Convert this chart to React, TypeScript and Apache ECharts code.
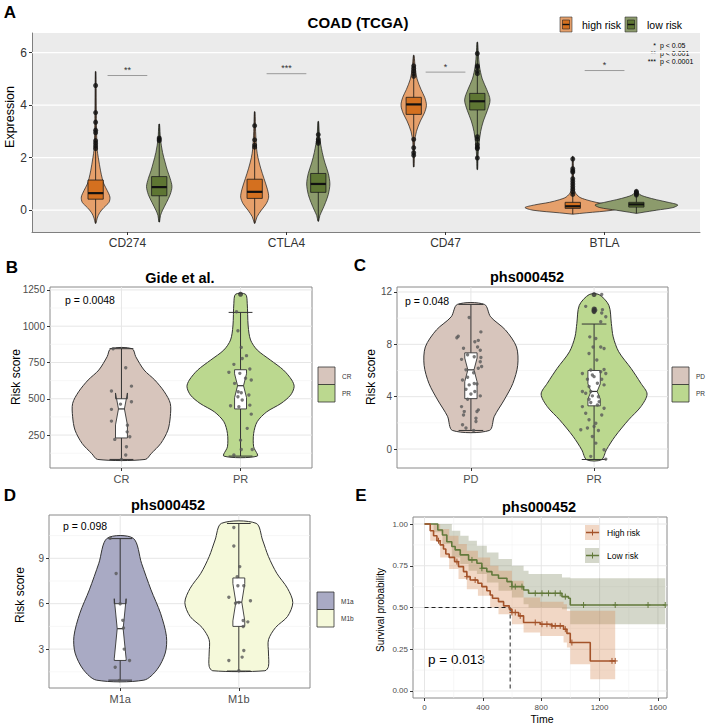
import React, { useEffect, useRef } from "react";
import * as echarts from "echarts";

const FONT = "'Liberation Sans', Arial, Helvetica, sans-serif";

// ================= Panel A: COAD (TCGA) =================
const aGenes = ["CD274", "CTLA4", "CD47", "BTLA"];
const aGroupNames = ["high risk", "low risk"];
const aYTicks = [0, 2, 4, 6];
// violin outlines: [expression, half-width (category units)]
const aViolinHigh = [
  [[-0.5, 0.002], [-0.3, 0.01], [-0.1, 0.025], [0.1, 0.052], [0.3, 0.084], [0.5, 0.09], [0.75, 0.073], [1.0, 0.052], [1.2, 0.042], [1.5, 0.031], [2.0, 0.017], [2.3, 0.01], [3.0, 0.006], [4.0, 0.004], [5.28, 0.002]],
  [[-0.5, 0.002], [-0.25, 0.015], [0.0, 0.042], [0.25, 0.073], [0.5, 0.088], [0.8, 0.08], [1.2, 0.059], [1.6, 0.038], [2.0, 0.021], [2.3, 0.013], [3.0, 0.006], [3.75, 0.002]],
  [[1.65, 0.002], [2.2, 0.004], [2.6, 0.006], [3.0, 0.017], [3.4, 0.042], [3.7, 0.067], [4.0, 0.08], [4.3, 0.069], [4.6, 0.046], [5.0, 0.021], [5.4, 0.01], [5.9, 0.002]],
  [[-0.15, 0.002], [-0.1, 0.084], [0.0, 0.25], [0.1, 0.3], [0.2, 0.241], [0.3, 0.147], [0.4, 0.084], [0.5, 0.042], [0.7, 0.013], [1.0, 0.006], [1.5, 0.004], [2.05, 0.002]],
];
const aViolinLow = [
  [[-0.45, 0.002], [-0.2, 0.008], [0.0, 0.021], [0.3, 0.046], [0.6, 0.069], [0.9, 0.08], [1.2, 0.069], [1.5, 0.052], [1.8, 0.038], [2.2, 0.021], [2.7, 0.008], [3.28, 0.002]],
  [[-0.42, 0.002], [-0.2, 0.01], [0.0, 0.025], [0.3, 0.046], [0.6, 0.063], [1.0, 0.073], [1.4, 0.063], [1.8, 0.042], [2.2, 0.025], [2.8, 0.008], [3.38, 0.002]],
  [[1.55, 0.002], [2.0, 0.004], [2.5, 0.01], [3.0, 0.021], [3.4, 0.038], [3.8, 0.063], [4.2, 0.08], [4.6, 0.059], [5.0, 0.031], [5.5, 0.013], [6.0, 0.006], [6.4, 0.002]],
  [[-0.12, 0.002], [-0.08, 0.042], [0.0, 0.126], [0.1, 0.23], [0.2, 0.26], [0.3, 0.2], [0.4, 0.126], [0.5, 0.063], [0.6, 0.021], [0.75, 0.004]],
];
// boxes: [q1, median, q3]
const aBoxHigh = [[0.42, 0.65, 1.15], [0.45, 0.7, 1.18], [3.65, 4.03, 4.3], [0.07, 0.15, 0.3]];
const aBoxLow = [[0.55, 0.88, 1.28], [0.68, 1.0, 1.4], [3.82, 4.15, 4.45], [0.12, 0.22, 0.3]];
const aOutHigh = [
  [4.75, 3.72, 3.35, 3.05, 2.95, 2.65, 2.55, 2.45, 2.35],
  [3.22, 2.68, 2.48, 2.4],
  [5.5, 5.4, 5.3, 5.2, 5.1, 2.7, 2.38, 2.19, 2.09],
  [1.95, 1.58, 1.5, 1.45, 1.2, 1.1, 1.0, 0.9, 0.8, 0.7, 0.6],
];
const aOutLow = [
  [2.75, 2.7, 2.65],
  [2.88, 2.7, 2.62, 2.55],
  [5.97, 5.5, 5.45, 5.3, 5.2, 2.8, 2.7, 2.5, 2.4, 2.35, 1.99],
  [0.72, 0.68, 0.62, 0.58],
];
const aSigLabels = ["**", "***", "*", "*"];
const aSigY = [5.13, 5.2, 5.26, 5.32];
const aPLegendStars = ["*", "**", "***"];
const aPLegendText = ["p < 0.05", "p < 0.001", "p < 0.0001"];

// ================= Panel B: Gide et al. =================
const bGroups = ["CR", "PR"];
const bYTicks = [250, 500, 750, 1000, 1250];
const bYMinor = [125, 375, 625, 875, 1125];
const bViolins = [
  [[82, 0.2], [123, 0.25], [192, 0.33], [284, 0.39], [376, 0.41], [468, 0.41], [548, 0.36], [629, 0.28], [698, 0.19], [790, 0.12], [845, 0.09]],
  [[105, 0.14], [169, 0.11], [261, 0.11], [342, 0.14], [410, 0.22], [468, 0.34], [525, 0.42], [583, 0.45], [629, 0.43], [698, 0.36], [767, 0.25], [836, 0.14], [905, 0.084], [1001, 0.064], [1158, 0.056], [1220, 0.042]],
];
// [q1, median, q3, notchLow, notchHigh, whiskerLow, whiskerHigh]
const bBoxes = [
  [230, 430, 500, 320, 540, 82, 845],
  [430, 590, 700, 508, 672, 105, 1095],
];
// jittered points: [offset, score]
const bPoints = [
  [[-0.07, 845], [0.036, 714], [0.084, 587], [-0.084, 553], [0.084, 480], [-0.008, 463], [-0.084, 427], [-0.084, 346], [0.05, 318], [0.048, 272], [-0.056, 220], [0.07, 238], [0.042, 170], [0.036, 112], [0, 82]],
  [[-0.034, 1100], [-0.022, 969], [0.006, 854], [0.05, 797], [0.014, 778], [-0.056, 737], [-0.098, 682], [0.078, 705], [-0.006, 675], [0.042, 641], [0.09, 629], [-0.05, 606], [-0.02, 548], [0.006, 541], [0.07, 526], [-0.022, 514], [0.014, 491], [-0.084, 452], [-0.014, 445], [0.078, 456], [0.09, 394], [0.056, 296], [0, 215], [0.006, 150], [0.098, 150], [-0.056, 112]],
];
const bOutliers = [[], [1220]];
const bPText = "p = 0.0048";

// ================= Panel C: phs000452 (PD / PR) =================
const cGroups = ["PD", "PR"];
const cYTicks = [0, 4, 8, 12];
const cYMinor = [2, 6, 10];
const cViolins = [
  [[1.42, 0.15], [2.5, 0.19], [3.75, 0.27], [5.0, 0.34], [6.4, 0.38], [7.8, 0.37], [9.1, 0.28], [10.1, 0.16], [11.05, 0.11]],
  [[-0.82, 0.06], [-0.06, 0.1], [0.96, 0.17], [2.23, 0.28], [3.24, 0.38], [4.2, 0.43], [5.02, 0.38], [6.16, 0.3], [7.43, 0.2], [8.57, 0.155], [9.6, 0.14], [10.98, 0.12], [11.8, 0.04]],
];
const cBoxes = [
  [3.85, 6.05, 7.35, 5.15, 6.95, 1.42, 11.05],
  [3.3, 4.4, 6.0, 3.82, 4.98, -0.8, 9.55],
];
const cPoints = [
  [[-0.014, 10.05], [-0.103, 8.62], [-0.114, 8.5], [0.081, 8.95], [0.06, 8.3], [0.032, 8.2], [0.054, 7.8], [-0.06, 7.7], [0.076, 7.55], [-0.027, 7.2], [0.027, 7.05], [-0.076, 6.85], [0.081, 7.0], [0.076, 6.67], [0.087, 6.3], [0.06, 6.17], [-0.04, 6.05], [0.022, 5.83], [-0.027, 5.48], [-0.068, 5.27], [0.027, 5.0], [-0.014, 4.9], [0.049, 4.97], [-0.04, 4.56], [0.032, 4.39], [0, 4.2], [0.076, 4.06], [-0.027, 3.8], [-0.076, 3.24], [0.06, 2.99], [0.049, 2.86], [-0.054, 2.86], [-0.06, 2.6], [0.041, 2.35], [0.041, 2.1], [-0.068, 1.85], [-0.04, 1.6], [0.022, 1.42]],
  [[0.062, 11.8], [-0.068, 10.9], [0.008, 10.73], [0.014, 10.6], [0, 10.48], [0.068, 10.65], [0.062, 10.4], [0.095, 10.1], [0.054, 9.72], [-0.035, 8.57], [0.014, 8.45], [0.054, 7.8], [0.081, 7.68], [-0.008, 7.8], [-0.041, 7.3], [0.022, 6.8], [-0.027, 6.04], [0.081, 6.08], [0.054, 5.9], [0.095, 5.77], [-0.095, 5.77], [-0.014, 5.65], [0, 5.53], [0.062, 5.33], [-0.054, 5.33], [0.027, 5.02], [-0.041, 4.77], [0.081, 4.9], [-0.068, 4.26], [-0.095, 4.39], [-0.027, 4.39], [-0.014, 4.06], [0.035, 4.0], [-0.041, 3.8], [0.041, 3.62], [-0.027, 3.55], [0.027, 3.37], [-0.095, 3.24], [0.081, 3.12], [-0.068, 2.74], [0.062, 2.6], [-0.041, 2.23], [0.014, 1.97], [0, 1.72], [-0.054, 1.6], [-0.108, 1.47], [0.035, 1.42], [-0.014, 0.96], [0.014, 0.45], [0.081, -0.06], [-0.027, -0.56], [0.095, -0.77]],
];
const cOutliers = [[], [11.8, 10.7, 10.6, 10.5]];
const cPText = "p = 0.048";

// ================= Panel D: phs000452 (M1a / M1b) =================
const dGroups = ["M1a", "M1b"];
const dYTicks = [3, 6, 9];
const dYMinor = [1.5, 4.5, 7.5, 10.5];
const dViolins = [
  [[0.95, 0.2], [1.64, 0.31], [2.74, 0.38], [3.84, 0.39], [5.37, 0.34], [6.91, 0.26], [8.67, 0.18], [10.32, 0.11]],
  [[1.57, 0.22], [1.86, 0.25], [2.74, 0.25], [3.62, 0.25], [4.43, 0.31], [5.15, 0.41], [6.08, 0.455], [7.02, 0.41], [8.01, 0.32], [9.11, 0.25], [10.21, 0.2], [11.31, 0.146]],
];
const dBoxes = [
  [2.25, 4.35, 6.0, 2.37, 6.33, 0.95, 10.3],
  [4.5, 6.1, 7.7, 4.87, 7.33, 1.55, 11.3],
];
const dPoints = [
  [[-0.084, 10.32], [-0.034, 8.0], [0, 6.0], [0.022, 4.9], [0.028, 4.4], [0.034, 3.0], [0.079, 2.25], [-0.042, 1.8], [-0.006, 0.92]],
  [[-0.042, 11.04], [-0.042, 9.81], [0.008, 8.45], [-0.014, 7.79], [-0.008, 7.18], [0.042, 7.18], [-0.084, 6.43], [-0.028, 6.03], [0, 6.08], [0.098, 6.2], [0.037, 4.89], [0.076, 4.8], [0.037, 4.49], [0.042, 2.91], [0.028, 2.47], [-0.084, 2.25], [0, 1.57]],
];
const dOutliers = [[], []];
const dPText = "p = 0.098";

// ================= Panel E: survival =================
const eXTicks = [0, 400, 800, 1200, 1600];
const eXMinor = [200, 600, 1000, 1400];
const eYTicks = [0, 0.25, 0.5, 0.75, 1];
const eYMinor = [0.125, 0.375, 0.625, 0.875];
const eNames = ["High risk", "Low risk"];
// [time, survival]
const eHighSteps = [[0, 1], [39, 0.96], [62, 0.93], [85, 0.9], [107, 0.875], [130, 0.85], [146, 0.82], [169, 0.8], [206, 0.775], [233, 0.745], [267, 0.715], [290, 0.685], [313, 0.665], [366, 0.645], [393, 0.625], [427, 0.6], [450, 0.575], [466, 0.555], [507, 0.535], [542, 0.51], [581, 0.49], [599, 0.47], [645, 0.45], [679, 0.41], [793, 0.4], [873, 0.39], [953, 0.37], [976, 0.345], [999, 0.29], [1136, 0.18], [1307, 0.18]];
const eLowSteps = [[0, 1], [62, 1], [91, 0.964], [123, 0.934], [153, 0.894], [187, 0.865], [210, 0.845], [245, 0.815], [302, 0.785], [359, 0.765], [393, 0.735], [427, 0.715], [462, 0.695], [507, 0.675], [565, 0.655], [599, 0.625], [679, 0.605], [713, 0.585], [942, 0.565], [987, 0.555], [999, 0.515], [1650, 0.515]];
// [time, lower, upper]
const eHighBand = [[0, 1, 1], [39, 0.9, 1.0], [107, 0.8, 0.97], [169, 0.73, 0.93], [233, 0.67, 0.88], [290, 0.61, 0.84], [366, 0.57, 0.8], [450, 0.5, 0.75], [507, 0.46, 0.72], [599, 0.4, 0.66], [679, 0.35, 0.56], [793, 0.33, 0.535], [953, 0.29, 0.52], [976, 0.26, 0.48], [999, 0.16, 0.48], [1136, 0.07, 0.48]];
const eHighEnd = 1307;
const eLowBand = [[0, 1, 1], [62, 0.95, 1], [123, 0.88, 1.0], [187, 0.8, 0.96], [245, 0.76, 0.93], [302, 0.72, 0.9], [359, 0.7, 0.87], [427, 0.65, 0.83], [507, 0.6, 0.79], [599, 0.56, 0.75], [679, 0.52, 0.72], [713, 0.5, 0.7], [942, 0.49, 0.68], [999, 0.4, 0.675]];
const eLowEnd = 1650;
const eHighCensor = [96, 222, 290, 347, 599, 622, 656, 759, 805, 839, 873, 896, 930, 965, 1010, 1285, 1307];
const eLowCensor = [325, 393, 599, 622, 668, 759, 805, 850, 896, 930, 965, 1090, 1307, 1532, 1650];
const eMedianTime = 587;
const ePText = "p = 0.013";

// ================= colours =================
const A_HIGH_V = "#E6A06B";
const A_HIGH_B = "#D4701F";
const A_LOW_V = "#8C9B6C";
const A_LOW_B = "#5E7633";
const B_FILLS = ["#D7C5BC", "#BBD88F"];
const C_FILLS = ["#D7C5BC", "#BBD88F"];
const D_FILLS = ["#A9AAC4", "#F5F9DA"];
const E_HIGH_LINE = "#A4532A";
const E_LOW_LINE = "#62793B";
const E_HIGH_BAND = "rgba(214,140,90,0.35)";
const E_LOW_BAND = "rgba(120,130,90,0.32)";

function survAt(steps: number[][], t: number) {
  let s = steps[0][1];
  for (const [ti, si] of steps) if (ti <= t) s = si;
  return s;
}

function violinShape(api: any, cx: number, prof: number[][], fill: string, stroke: string, lw: number) {
  const right = prof.map(([v, w]) => api.coord([cx + w, v]));
  const left = prof.slice().reverse().map(([v, w]) => api.coord([cx - w, v]));
  return {
    type: "polygon",
    shape: { points: right.concat(left), smooth: 0.3 },
    style: { fill, stroke, lineWidth: lw },
  };
}

function line(p1: number[], p2: number[], stroke: string, lw: number, dash?: number[]) {
  return { type: "line", shape: { x1: p1[0], y1: p1[1], x2: p2[0], y2: p2[1] }, style: { stroke, lineWidth: lw, lineDash: dash } };
}

function gridLineSeries(gi: number, hMajor: number[], hMinor: number[], vMajor: number[], vMinor: number[], col: string, colMinor: string, w: number, wMinor: number) {
  const data: number[][] = [];
  hMajor.forEach((v) => data.push([v, v, 0, 1]));
  hMinor.forEach((v) => data.push([v, v, 0, 0]));
  vMajor.forEach((v) => data.push([v, v, 1, 1]));
  vMinor.forEach((v) => data.push([v, v, 1, 0]));
  return {
    type: "custom",
    xAxisIndex: gi,
    yAxisIndex: gi,
    z: 1,
    silent: true,
    encode: { x: 0, y: 1 },
    data,
    renderItem: (params: any, api: any) => {
      const cs = params.coordSys;
      const pt = api.coord([api.value(0), api.value(1)]);
      const major = api.value(3) === 1;
      const c = major ? col : colMinor;
      const lw = major ? w : wMinor;
      if (api.value(2) === 0) return line([cs.x, pt[1]], [cs.x + cs.width, pt[1]], c, lw);
      return line([pt[0], cs.y], [pt[0], cs.y + cs.height], c, lw);
    },
  };
}

function text(t: string, x: number, y: number, o: any = {}) {
  return {
    type: "text",
    x,
    y,
    rotation: o.rotation || 0,
    style: {
      text: t,
      fill: o.fill || "#000",
      fontSize: o.size || 12,
      fontWeight: o.weight || "normal",
      fontFamily: FONT,
      textAlign: o.align || "center",
      textVerticalAlign: "middle",
      align: o.align || "center",
      verticalAlign: "middle",
    },
    silent: true,
  };
}

function axisPair(gi: number, xMin: number, xMax: number, xTicks: number[], xFmt: (v: number) => string, yMin: number, yMax: number, yTicks: number[], o: any) {
  const xAxis = {
    type: "value",
    gridIndex: gi,
    min: xMin,
    max: xMax,
    axisLine: { show: !!o.axisLine, onZero: false, lineStyle: { color: "#7F7F7F", width: 1 } },
    axisTick: { show: true, customValues: xTicks, length: 3, lineStyle: { color: "#333", width: 1 } },
    axisLabel: { customValues: xTicks, formatter: xFmt, fontSize: o.xSize, color: o.labelColor || "#4D4D4D", fontFamily: FONT, margin: 5 },
    splitLine: { show: false },
  };
  const yAxis = {
    type: "value",
    gridIndex: gi,
    min: yMin,
    max: yMax,
    axisLine: { show: !!o.axisLine, onZero: false, lineStyle: { color: "#7F7F7F", width: 1 } },
    axisTick: { show: true, customValues: yTicks, length: 3, lineStyle: { color: "#333", width: 1 } },
    axisLabel: { customValues: yTicks, formatter: o.yFmt || ((v: number) => String(v)), fontSize: o.ySize, color: o.labelColor || "#4D4D4D", fontFamily: FONT, margin: 5 },
    splitLine: { show: false },
  };
  return { xAxis, yAxis };
}

function buildOption() {
  const grids = [
    { left: 32, top: 33, width: 668, height: 199, show: true, backgroundColor: "#EBEBEB", borderWidth: 0 },
    { left: 50, top: 287, width: 262, height: 181, show: true, backgroundColor: "#fff", borderColor: "#8A8A8A", borderWidth: 1 },
    { left: 397, top: 287, width: 271, height: 181, show: true, backgroundColor: "#fff", borderColor: "#8A8A8A", borderWidth: 1 },
    { left: 49, top: 515, width: 261, height: 173, show: true, backgroundColor: "#fff", borderColor: "#8A8A8A", borderWidth: 1 },
    { left: 413, top: 517, width: 254, height: 181, show: true, backgroundColor: "#fff", borderColor: "#8A8A8A", borderWidth: 1 },
  ];
  const axA = axisPair(0, 0.4, 4.6, [1, 2, 3, 4], (v) => aGenes[Math.round(v) - 1], -0.83, 6.75, aYTicks, { axisLine: true, xSize: 12, ySize: 12, labelColor: "#333" });
  const axB = axisPair(1, 0.4, 2.6, [1, 2], (v) => bGroups[Math.round(v) - 1], 23, 1270, bYTicks, { xSize: 11, ySize: 10 });
  const axC = axisPair(2, 0.4, 2.6, [1, 2], (v) => cGroups[Math.round(v) - 1], -1.45, 12.38, cYTicks, { xSize: 11, ySize: 10 });
  const axD = axisPair(3, 0.4, 2.6, [1, 2], (v) => dGroups[Math.round(v) - 1], 0.43, 11.86, dYTicks, { xSize: 11, ySize: 10 });
  const axE = axisPair(4, -79, 1662, eXTicks, (v) => String(v), -0.042, 1.042, eYTicks, { xSize: 8, ySize: 8, yFmt: (v: number) => v.toFixed(2) });

  const series: any[] = [];

  // ---------- Panel A ----------
  series.push(gridLineSeries(0, aYTicks, [], [], [], "#FFFFFF", "#FFFFFF", 1.2, 0.6));
  const aItems: number[][] = [];
  aGenes.forEach((_, gi) => {
    aItems.push([gi + 1 - 0.2, 0, gi, 0]);
    aItems.push([gi + 1 + 0.2, 0, gi, 1]);
  });
  series.push({
    type: "custom",
    xAxisIndex: 0,
    yAxisIndex: 0,
    z: 3,
    encode: { x: 0, y: 1 },
    data: aItems,
    renderItem: (params: any, api: any) => {
      const gi = api.value(2);
      const grp = api.value(3);
      const prof = grp === 0 ? aViolinHigh[gi] : aViolinLow[gi];
      return violinShape(api, api.value(0), prof, grp === 0 ? A_HIGH_V : A_LOW_V, "#1A1A1A", 0.7);
    },
  });
  series.push({
    type: "custom",
    xAxisIndex: 0,
    yAxisIndex: 0,
    z: 4,
    encode: { x: 0, y: 1 },
    data: aItems,
    renderItem: (params: any, api: any) => {
      const gi = api.value(2);
      const grp = api.value(3);
      const cx = api.value(0);
      const prof = grp === 0 ? aViolinHigh[gi] : aViolinLow[gi];
      const [q1, med, q3] = grp === 0 ? aBoxHigh[gi] : aBoxLow[gi];
      const w = 0.048;
      const c = (dx: number, v: number) => api.coord([cx + dx, v]);
      const lo = c(-w, q3);
      const hi = c(w, q1);
      return {
        type: "group",
        children: [
          line(c(0, prof[0][0]), c(0, prof[prof.length - 1][0]), "#111", 0.8),
          { type: "rect", shape: { x: lo[0], y: lo[1], width: hi[0] - lo[0], height: hi[1] - lo[1] }, style: { fill: grp === 0 ? A_HIGH_B : A_LOW_B, stroke: "#1A1A1A", lineWidth: 0.8 } },
          line(c(-w, med), c(w, med), "#111", 2.2),
        ],
      };
    },
  });
  [0, 1].forEach((grp) => {
    const pts: number[][] = [];
    (grp === 0 ? aOutHigh : aOutLow).forEach((arr, gi) => arr.forEach((v) => pts.push([gi + 1 + (grp === 0 ? -0.2 : 0.2), v])));
    series.push({ type: "scatter", xAxisIndex: 0, yAxisIndex: 0, z: 5, data: pts, symbolSize: 5, itemStyle: { color: "#111" }, silent: true });
  });
  series.push({
    type: "custom",
    xAxisIndex: 0,
    yAxisIndex: 0,
    z: 5,
    encode: { x: 0, y: 1 },
    data: aGenes.map((_, gi) => [gi + 1, aSigY[gi], gi]),
    renderItem: (params: any, api: any) => {
      const cx = api.value(0);
      const y = api.value(1);
      const gi = api.value(2);
      const p1 = api.coord([cx - 0.125, y]);
      const p2 = api.coord([cx + 0.125, y]);
      return {
        type: "group",
        children: [
          line(p1, p2, "#9A9A9A", 1),
          { type: "text", x: (p1[0] + p2[0]) / 2, y: p1[1] - 1, style: { text: aSigLabels[gi], fill: "#333", fontSize: 9, fontFamily: FONT, align: "center", verticalAlign: "bottom", textAlign: "center", textVerticalAlign: "bottom" } },
        ],
      };
    },
  });

  // ---------- Panels B, C, D ----------
  const bcd = [
    { gi: 1, violins: bViolins, boxes: bBoxes, points: bPoints, outliers: bOutliers, fills: B_FILLS, yTicks: bYTicks, yMinor: bYMinor },
    { gi: 2, violins: cViolins, boxes: cBoxes, points: cPoints, outliers: cOutliers, fills: C_FILLS, yTicks: cYTicks, yMinor: cYMinor },
    { gi: 3, violins: dViolins, boxes: dBoxes, points: dPoints, outliers: dOutliers, fills: D_FILLS, yTicks: dYTicks, yMinor: dYMinor },
  ];
  bcd.forEach((p) => {
    series.push(gridLineSeries(p.gi, p.yTicks, p.yMinor, [1, 2], [], "#E6E6E6", "#F2F2F2", 1, 0.6));
    const items = p.violins.map((_, i) => [i + 1, 0, i]);
    series.push({
      type: "custom",
      xAxisIndex: p.gi,
      yAxisIndex: p.gi,
      z: 3,
      encode: { x: 0, y: 1 },
      data: items,
      renderItem: (params: any, api: any) => {
        const i = api.value(2);
        return violinShape(api, api.value(0), p.violins[i], p.fills[i], "#333", 1);
      },
    });
    series.push({
      type: "custom",
      xAxisIndex: p.gi,
      yAxisIndex: p.gi,
      z: 4,
      encode: { x: 0, y: 1 },
      data: items,
      renderItem: (params: any, api: any) => {
        const i = api.value(2);
        const cx = api.value(0);
        const [q1, med, q3, nlo, nhi, wlo, whi] = p.boxes[i];
        const w = 0.05;
        const cap = 0.1;
        const c = (dx: number, v: number) => api.coord([cx + dx, v]);
        const pts = [c(-w, q1), c(w, q1), c(w, nlo), c(w / 2, med), c(w, nhi), c(w, q3), c(-w, q3), c(-w, nhi), c(-w / 2, med), c(-w, nlo)];
        return {
          type: "group",
          children: [
            line(c(0, wlo), c(0, whi), "#333", 1),
            line(c(-cap, wlo), c(cap, wlo), "#333", 1),
            line(c(-cap, whi), c(cap, whi), "#333", 1),
            { type: "polygon", shape: { points: pts }, style: { fill: "#FFFFFF", stroke: "#333", lineWidth: 0.9 } },
            line(c(-w / 2, med), c(w / 2, med), "#333", 1.2),
          ],
        };
      },
    });
    const jit: number[][] = [];
    p.points.forEach((arr, i) => arr.forEach(([dx, v]) => jit.push([i + 1 + dx, v])));
    series.push({ type: "scatter", xAxisIndex: p.gi, yAxisIndex: p.gi, z: 5, data: jit, symbolSize: 3.4, itemStyle: { color: "#595959" }, silent: true });
    const outs: number[][] = [];
    p.outliers.forEach((arr, i) => arr.forEach((v) => outs.push([i + 1, v])));
    series.push({ type: "scatter", xAxisIndex: p.gi, yAxisIndex: p.gi, z: 5, data: outs, symbolSize: 5, itemStyle: { color: "#333" }, silent: true });
  });

  // ---------- Panel E ----------
  series.push(gridLineSeries(4, eYTicks, eYMinor, eXTicks, eXMinor, "#E6E6E6", "#F2F2F2", 1, 0.6));
  const bandSeries = (band: number[][], end: number, fill: string, z: number) => ({
    type: "custom",
    xAxisIndex: 4,
    yAxisIndex: 4,
    z,
    encode: { x: 0, y: 1 },
    data: [[0, 1]],
    renderItem: (params: any, api: any) => {
      const upper: number[][] = [];
      const lower: number[][] = [];
      band.forEach(([t, lo, hi], k) => {
        const tNext = k + 1 < band.length ? band[k + 1][0] : end;
        upper.push(api.coord([t, hi]), api.coord([tNext, hi]));
        lower.push(api.coord([t, lo]), api.coord([tNext, lo]));
      });
      return { type: "polygon", shape: { points: upper.concat(lower.reverse()) }, style: { fill } };
    },
  });
  series.push(bandSeries(eLowBand, eLowEnd, E_LOW_BAND, 2));
  series.push(bandSeries(eHighBand, eHighEnd, E_HIGH_BAND, 2));
  series.push({ type: "line", xAxisIndex: 4, yAxisIndex: 4, z: 4, data: [[0, 0.5], [eMedianTime, 0.5]], showSymbol: false, lineStyle: { color: "#222", width: 1, type: [4, 3] }, silent: true });
  series.push({ type: "line", xAxisIndex: 4, yAxisIndex: 4, z: 4, data: [[eMedianTime, 0.5], [eMedianTime, 0]], showSymbol: false, lineStyle: { color: "#222", width: 1, type: [4, 3] }, silent: true });
  series.push({ type: "line", xAxisIndex: 4, yAxisIndex: 4, z: 5, data: eLowSteps, step: "end", showSymbol: false, lineStyle: { color: E_LOW_LINE, width: 1.6 }, silent: true });
  series.push({ type: "line", xAxisIndex: 4, yAxisIndex: 4, z: 5, data: eHighSteps, step: "end", showSymbol: false, lineStyle: { color: E_HIGH_LINE, width: 1.6 }, silent: true });
  const censorSeries = (times: number[], steps: number[][], color: string) => ({
    type: "custom",
    xAxisIndex: 4,
    yAxisIndex: 4,
    z: 6,
    encode: { x: 0, y: 1 },
    data: times.map((t) => [t, survAt(steps, t)]),
    renderItem: (params: any, api: any) => {
      const p = api.coord([api.value(0), api.value(1)]);
      return {
        type: "group",
        children: [line([p[0], p[1] - 3], [p[0], p[1] + 3], color, 1), line([p[0] - 2.5, p[1]], [p[0] + 2.5, p[1]], color, 1)],
      };
    },
  });
  series.push(censorSeries(eLowCensor, eLowSteps, E_LOW_LINE));
  series.push(censorSeries(eHighCensor, eHighSteps, E_HIGH_LINE));

  // ---------- graphic: letters, titles, axis names, legends ----------
  const g: any[] = [];
  g.push(text("A", 10, 12, { size: 17, weight: "bold" }));
  g.push(text("B", 12, 267, { size: 17, weight: "bold" }));
  g.push(text("C", 360, 265, { size: 17, weight: "bold" }));
  g.push(text("D", 10, 495, { size: 17, weight: "bold" }));
  g.push(text("E", 361, 495, { size: 17, weight: "bold" }));

  g.push(text("COAD (TCGA)", 358, 22, { size: 15, weight: "bold" }));
  g.push(text("Gide et al.", 180, 278, { size: 14.5, weight: "bold" }));
  g.push(text("phs000452", 527, 277, { size: 14.5, weight: "bold" }));
  g.push(text("phs000452", 168, 505, { size: 14.5, weight: "bold" }));
  g.push(text("phs000452", 539, 507, { size: 14.5, weight: "bold" }));

  g.push(text("Expression", 10, 117, { size: 12.5, rotation: Math.PI / 2 }));
  g.push(text("Risk score", 16, 377, { size: 12, rotation: Math.PI / 2 }));
  g.push(text("Risk score", 371, 377, { size: 12, rotation: Math.PI / 2 }));
  g.push(text("Risk score", 20, 595, { size: 12, rotation: Math.PI / 2 }));
  g.push(text("Survival probability", 380, 610, { size: 10, rotation: Math.PI / 2 }));
  g.push(text("Time", 542, 719, { size: 10.5 }));

  // p-values
  g.push(text(bPText, 65, 300, { size: 10.5, align: "left" }));
  g.push(text(cPText, 405, 301, { size: 10.5, align: "left" }));
  g.push(text(dPText, 63, 526, { size: 10.5, align: "left" }));
  g.push(text(ePText, 428, 659, { size: 13.5, align: "left" }));

  // panel A legend
  const aKey = (x: number, fillV: string, fillB: string) => [
    { type: "rect", shape: { x, y: 17, width: 12, height: 15 }, style: { fill: fillV, stroke: "#333", lineWidth: 0.6 }, silent: true },
    { type: "rect", shape: { x: x + 2.5, y: 20, width: 7, height: 9 }, style: { fill: fillB, stroke: "#222", lineWidth: 0.6 }, silent: true },
    { type: "line", shape: { x1: x + 2.5, y1: 24.5, x2: x + 9.5, y2: 24.5 }, style: { stroke: "#111", lineWidth: 1.4 }, silent: true },
  ];
  g.push(...aKey(560, A_HIGH_V, A_HIGH_B));
  g.push(text(aGroupNames[0], 582, 24.5, { size: 10.5, align: "left" }));
  g.push(...aKey(625, A_LOW_V, A_LOW_B));
  g.push(text(aGroupNames[1], 647, 24.5, { size: 10.5, align: "left" }));
  aPLegendStars.forEach((s, k) => {
    g.push(text(s, 656, 45 + k * 8.4, { size: 7, align: "right" }));
    g.push(text(aPLegendText[k], 660, 45 + k * 8.4, { size: 7, align: "left" }));
  });

  // B, C, D legends
  const boxLegend = (x: number, y: number, names: string[], fills: string[]) => {
    names.forEach((n, k) => {
      g.push({ type: "rect", shape: { x, y: y + k * 17.5, width: 17, height: 17.5 }, style: { fill: fills[k], stroke: "#333", lineWidth: 0.8 }, silent: true });
      g.push(text(n, x + 24, y + k * 17.5 + 9, { size: 6.5, align: "left", fill: "#333" }));
    });
  };
  boxLegend(318, 367, bGroups, B_FILLS);
  boxLegend(672, 367, cGroups, C_FILLS);
  boxLegend(317, 592, dGroups, D_FILLS);

  // E legend
  const eKey = (y: number, band: string, col: string) => [
    { type: "rect", shape: { x: 585, y, width: 15, height: 15 }, style: { fill: band }, silent: true },
    { type: "line", shape: { x1: 586, y1: y + 7.5, x2: 600, y2: y + 7.5 }, style: { stroke: col, lineWidth: 1.5 }, silent: true },
    { type: "line", shape: { x1: 592.5, y1: y + 4.5, x2: 592.5, y2: y + 10.5 }, style: { stroke: col, lineWidth: 1 }, silent: true },
  ];
  g.push(...eKey(525, E_HIGH_BAND, E_HIGH_LINE));
  g.push(text(eNames[0], 607, 532.5, { size: 8.5, align: "left" }));
  g.push(...eKey(548, E_LOW_BAND, E_LOW_LINE));
  g.push(text(eNames[1], 607, 555.5, { size: 8.5, align: "left" }));

  return {
    animation: false,
    backgroundColor: "#FFFFFF",
    textStyle: { fontFamily: FONT },
    grid: grids,
    xAxis: [axA.xAxis, axB.xAxis, axC.xAxis, axD.xAxis, axE.xAxis],
    yAxis: [axA.yAxis, axB.yAxis, axC.yAxis, axD.yAxis, axE.yAxis],
    series,
    graphic: g,
  };
}

export default function App() {
  const ref = useRef<HTMLDivElement>(null);
  useEffect(() => {
    if (!ref.current) return;
    const chart = echarts.init(ref.current, null, { renderer: "svg" });
    chart.setOption(buildOption() as any);
    return () => chart.dispose();
  }, []);
  return <div ref={ref} style={{ position: "absolute", left: 0, top: 0, width: 709, height: 728, background: "#fff" }} />;
}
